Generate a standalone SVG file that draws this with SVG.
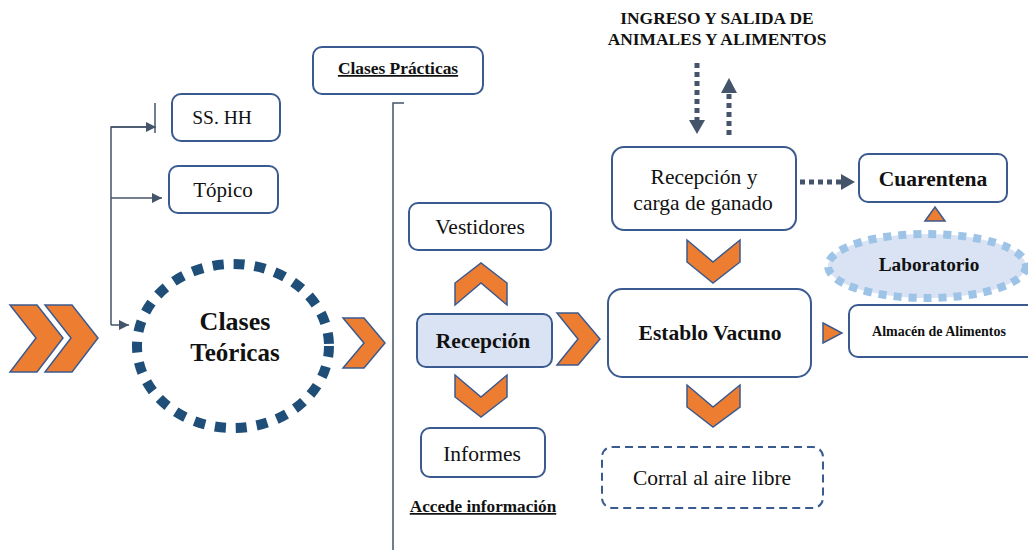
<svg xmlns="http://www.w3.org/2000/svg" width="1028" height="553" viewBox="0 0 1028 553">
<defs>
<style>
.box{fill:#fff;stroke:#3b5a8f;stroke-width:2}
.chev{fill:#ed7d31;stroke:#3b5a8f;stroke-width:1.5;stroke-linejoin:miter}
text{font-family:"Liberation Serif","Times New Roman",serif;fill:#111;text-anchor:middle}
.b{font-weight:bold}
.m{font-size:21.5px}
.ln{fill:none;stroke:#44546a;stroke-width:1.5}
.dot{fill:none;stroke:#44546a;stroke-width:5;stroke-dasharray:5 4}
</style>
<marker id="ah" viewBox="0 0 10 10" refX="10" refY="5" markerWidth="10" markerHeight="10" markerUnits="userSpaceOnUse" orient="auto"><path d="M0,0L10,5L0,10z" fill="#44546a"/></marker>
</defs>
<rect width="1028" height="553" fill="#fff"/>
<g id="connectors">
<path class="ln" d="M111,325V127H155"/>
<path class="ln" d="M111,127H156" marker-end="url(#ah)"/>
<path class="ln" d="M155,103V133" stroke-width="1"/>
<path class="ln" d="M111,198H162" marker-end="url(#ah)"/>
<path class="ln" d="M111,325H129" marker-end="url(#ah)"/>
<path class="ln" d="M404,103H393V550" stroke-width="2"/>
<path class="dot" d="M697,63V122"/>
<path d="M689,120L705,120L697,134z" fill="#44546a"/>
<path class="dot" d="M729,135V92"/>
<path d="M721,93L737,93L729,78z" fill="#44546a"/>
<path class="dot" d="M800,182H843"/>
<path d="M841,174L855,182L841,190z" fill="#44546a"/>
</g>
<g id="chevrons">
<polygon class="chev" points="10,305 37,305 63,338 37,372 10,372 36,338"/>
<polygon class="chev" points="45,305 72,305 98,338 72,372 45,372 71,338"/>
<polygon class="chev" points="343,318 364,318 385,343 364,368 343,368 364,343"/>
<polygon class="chev" points="557,313 578,313 600,339 578,365 557,365 578,339"/>
<polygon class="chev" points="455,305 481,283 507,305 507,283 481,263 455,283"/>
<polygon class="chev" points="455,375 481,397 507,375 507,397 481,417 455,397"/>
<polygon class="chev" points="687,240 713,262 740,240 740,262 713,283 687,262"/>
<polygon class="chev" points="687,385 713,407 740,385 740,407 713,427 687,407"/>
<polygon class="chev" points="925,221 935,207 945,221"/>
<polygon class="chev" points="823,323 842,333 823,343"/>
</g>
<g id="clases-teoricas">
<ellipse cx="233" cy="346" rx="96" ry="82" fill="#fff" stroke="#1f4e79" stroke-width="10" stroke-dasharray="11 10"/>
<text class="b" x="235" y="330" font-size="26">Clases</text>
<text class="b" x="235" y="361" font-size="25">Teóricas</text>
</g>
<g id="ss-hh">
<rect class="box" x="172" y="94" width="108" height="47" rx="9"/>
<text x="222" y="124" font-size="19.5">SS. HH</text>
</g>
<g id="topico">
<rect class="box" x="169" y="166" width="109" height="47" rx="9"/>
<text x="223" y="197" font-size="21">Tópico</text>
</g>
<g id="clases-practicas">
<rect class="box" x="313" y="47" width="170" height="47" rx="9"/>
<text class="b" x="398" y="74" font-size="17.4" text-decoration="underline">Clases Prácticas</text>
</g>
<g id="vestidores">
<rect class="box" x="409" y="203" width="142" height="47" rx="9"/>
<text class="m" x="480" y="234">Vestidores</text>
</g>
<g id="recepcion">
<rect class="box" x="417" y="314" width="135" height="53" rx="9" style="fill:#dae3f3"/>
<text class="b m" x="483" y="348">Recepción</text>
</g>
<g id="informes">
<rect class="box" x="421" y="428" width="124" height="49" rx="9"/>
<text class="m" x="482" y="461">Informes</text>
</g>
<g id="accede">
<text class="b" x="483" y="512" font-size="17.2" text-decoration="underline">Accede información</text>
</g>
<g id="ingreso">
<text class="b" x="717" y="24" font-size="17.4">INGRESO Y SALIDA DE</text>
<text class="b" x="717" y="45" font-size="17.4">ANIMALES Y ALIMENTOS</text>
</g>
<g id="recepcion-carga">
<rect class="box" x="612" y="147" width="184" height="83" rx="12"/>
<text class="m" x="704" y="184">Recepción y</text>
<text class="m" x="703" y="210">carga de ganado</text>
</g>
<g id="cuarentena">
<rect class="box" x="859" y="154" width="148" height="48" rx="9"/>
<text class="b m" x="933" y="186">Cuarentena</text>
</g>
<g id="laboratorio">
<ellipse cx="927" cy="266" rx="99" ry="32" fill="#dae3f3" stroke="#9dc3e6" stroke-width="8" stroke-dasharray="8 7"/>
<text class="b" x="929" y="271" font-size="19.3">Laboratorio</text>
</g>
<g id="establo">
<rect class="box" x="608" y="289" width="203" height="88" rx="14"/>
<text class="b m" x="710" y="340">Establo Vacuno</text>
</g>
<g id="almacen">
<rect class="box" x="849" y="305" width="190" height="52" rx="9"/>
<text class="b" x="939" y="336" font-size="14">Almacén de Alimentos</text>
</g>
<g id="corral">
<rect class="box" x="602" y="447" width="221" height="61" rx="10" stroke-dasharray="8 5"/>
<text class="m" x="712" y="485">Corral al aire libre</text>
</g>
</svg>
